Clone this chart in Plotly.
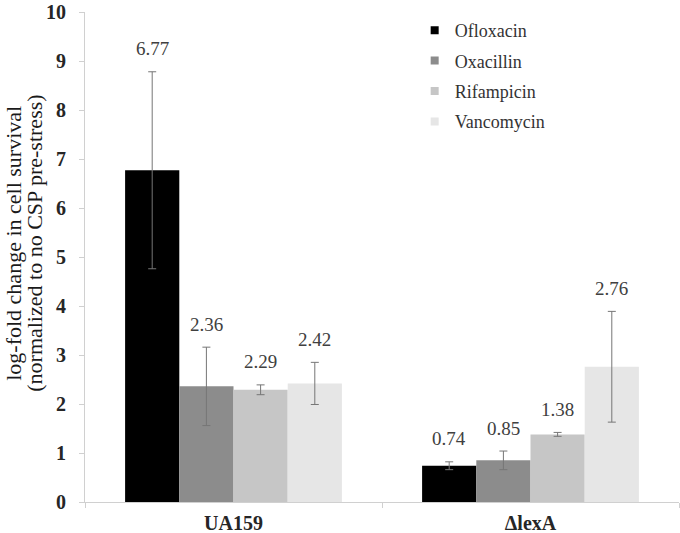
import plotly.graph_objects as go

strains = ["UA159", "ΔlexA"]
antibiotics = ["Ofloxacin", "Oxacillin", "Rifampicin", "Vancomycin"]
values = {
    "Ofloxacin": [6.77, 0.74],
    "Oxacillin": [2.36, 0.85],
    "Rifampicin": [2.29, 1.38],
    "Vancomycin": [2.42, 2.76],
}
errors = {
    "Ofloxacin": [2.01, 0.08],
    "Oxacillin": [0.80, 0.19],
    "Rifampicin": [0.10, 0.04],
    "Vancomycin": [0.43, 1.13],
}
colors = ["#000000", "#8c8c8c", "#c6c6c6", "#e6e6e6"]
y_title_lines = ["log-fold change in cell survival", "(normalized to no CSP pre-stress)"]

FONT = "Liberation Serif, Times New Roman, DejaVu Serif, serif"
fig = go.Figure()
for i, ab in enumerate(antibiotics):
    fig.add_trace(go.Bar(
        name=ab, x=strains, y=values[ab],
        marker=dict(color=colors[i], line=dict(width=0)),
        error_y=dict(type="data", array=errors[ab], visible=True,
                     color="#767676", thickness=1, width=4),
        showlegend=False,
    ))
# legend entries with small square swatches
for i, ab in enumerate(antibiotics):
    fig.add_trace(go.Scatter(
        name=ab, x=[None], y=[None], mode="markers",
        marker=dict(symbol="square", size=8, color=colors[i]),
        legendgroup=ab, showlegend=True,
    ))

n = len(antibiotics)
for i, ab in enumerate(antibiotics):
    for j, s in enumerate(strains):
        top = values[ab][j] + errors[ab][j]
        fig.add_annotation(
            x=s, y=top, text=f"{values[ab][j]:.2f}", showarrow=False,
            xref="x", yref="y", yshift=23,
            xshift=(i - (n - 1) / 2) * 54.3,
            font=dict(family=FONT, size=19, color="#404040"),
        )

# y-axis title (two lines)
for k, line in enumerate(y_title_lines):
    fig.add_annotation(
        text=line, textangle=-90, showarrow=False,
        xref="paper", yref="paper", x=0, y=0.527,
        xshift=-71 + 21 * k, xanchor="center", yanchor="middle",
        font=dict(family=FONT, size=22, color="#1a1a1a"),
    )

fig.update_layout(
    width=680, height=533,
    margin=dict(l=85, r=1, t=12, b=31),
    paper_bgcolor="white", plot_bgcolor="white",
    barmode="group", bargap=0.27, bargroupgap=0,
    font=dict(family=FONT),
    showlegend=True,
    legend=dict(x=0.555, y=1.0, xanchor="left", yanchor="top",
                font=dict(family=FONT, size=18, color="#333333"),
                tracegroupgap=4, traceorder="grouped",
                itemwidth=30, bgcolor="rgba(0,0,0,0)"),
)
fig.update_yaxes(
    range=[0, 10], dtick=1, showgrid=False, zeroline=False, automargin=False,
    showline=True, linecolor="#d0d0d0", linewidth=1,
    ticks="outside", ticklen=5, tickcolor="#d0d0d0",
    tickfont=dict(family=FONT, size=20, color="#262626", weight="bold"),
    ticklabelstandoff=9, ticklabeloverflow="allow",
)
fig.update_xaxes(
    showgrid=False, showline=True, linecolor="#d0d0d0", linewidth=1, automargin=False,
    ticks="outside", ticklen=5, tickcolor="#d0d0d0", tickson="boundaries",
    tickfont=dict(family=FONT, size=20, color="#262626", weight="bold"),
    ticklabelstandoff=3, ticklabeloverflow="allow",
)
fig.write_html("out.html", config={"displayModeBar": False},
               post_script="document.body.style.margin='0';document.body.style.padding='0';")
